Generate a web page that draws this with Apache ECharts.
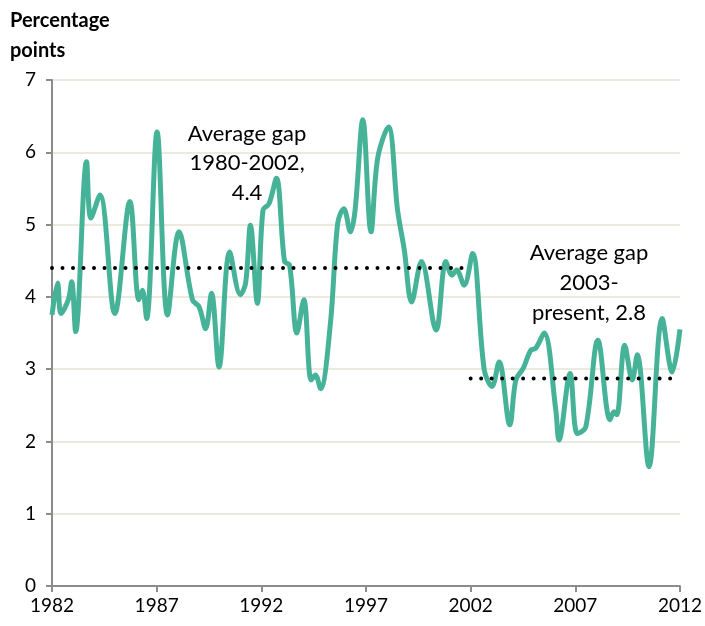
<!DOCTYPE html>
<html lang="en">
<head>
    <meta charset="UTF-8">
    <title>Gap</title>
    <style>
        * { margin: 0; padding: 0; }
        #main { width: 705px; height: 626px; background: #fff; }
    </style>
</head>
<script src="https://cdn.jsdelivr.net/npm/echarts@6/dist/echarts.min.js"></script>
<body>
    <div id="main"></div>
    <script>
        // turning points (year, percentage points)
        var years = [
            1982.0, 1982.27, 1982.43, 1982.78, 1982.94, 1983.13, 1983.65, 1983.86, 1984.29, 1985.0,
            1985.72, 1986.15, 1986.32, 1986.52, 1987.02, 1987.52, 1988.07, 1988.71, 1989.03, 1989.34,
            1989.62, 1989.98, 1990.49, 1991.0, 1991.25, 1991.48, 1991.81, 1992.08, 1992.37, 1992.72,
            1993.11, 1993.35, 1993.7, 1994.03, 1994.38, 1994.58, 1994.83, 1995.3, 1995.65, 1995.94,
            1996.26, 1996.48, 1996.85, 1997.24, 1997.56, 1998.07, 1998.51, 1998.83, 1999.18, 1999.65,
            2000.35, 2000.82, 2001.11, 2001.33, 2001.69, 2002.09, 2002.65, 2003.02, 2003.36, 2003.87,
            2004.16, 2004.51, 2004.87, 2005.11, 2005.51, 2006.07, 2006.22, 2006.75, 2007.1, 2007.5,
            2008.08, 2008.66, 2008.85, 2008.98, 2009.36, 2009.72, 2009.96, 2010.52, 2011.15, 2011.63,
            2012.0
        ];
        var gap = [
            3.75, 4.19, 3.77, 3.96, 4.21, 3.52, 5.87, 5.09, 5.41, 3.77,
            5.32, 3.96, 4.09, 3.70, 6.28, 3.75, 4.90, 3.96, 3.86, 3.56,
            4.05, 3.03, 4.62, 4.03, 4.19, 4.99, 3.91, 5.20, 5.29, 5.64,
            4.49, 4.44, 3.50, 3.96, 2.85, 2.92, 2.73, 3.63, 5.02, 5.22,
            4.90, 5.20, 6.45, 4.90, 5.92, 6.35, 5.20, 4.65, 3.93, 4.49,
            3.54, 4.49, 4.30, 4.37, 4.16, 4.60, 2.99, 2.76, 3.10, 2.23,
            2.85, 3.01, 3.26, 3.29, 3.50, 2.43, 2.02, 2.94, 2.11, 2.20,
            3.40, 2.30, 2.41, 2.37, 3.33, 2.85, 3.20, 1.65, 3.70, 2.96,
            3.55
        ];
        var avg1Span = [1982, 2001.85];
        var avg1Value = 4.4;
        var avg2Span = [2002.0, 2011.6];
        var avg2Value = 2.87;
        var yTicks = [0, 1, 2, 3, 4, 5, 6, 7];

        var lineData = years.map(function (y, i) { return [y, gap[i]]; });
        var avg1Data = avg1Span.map(function (y) { return [y, avg1Value]; });
        var avg2Data = avg2Span.map(function (y) { return [y, avg2Value]; });

        var font = 'Lato, "Open Sans", sans-serif';
        var myChart = echarts.init(document.getElementById('main'));
        var option = {
            backgroundColor: '#ffffff',
            animation: false,
            grid: { left: 52, right: 24, top: 80, bottom: 40 },
            xAxis: {
                type: 'value',
                min: 1982,
                max: 2012,
                interval: 5,
                axisLine: { lineStyle: { color: '#8c8c8c', width: 2 } },
                axisTick: { show: true, length: 6, lineStyle: { color: '#8c8c8c', width: 2 } },
                axisLabel: {
                    color: '#000', fontSize: 19, fontFamily: font, margin: 10,
                    formatter: function (v) { return String(v); }
                },
                splitLine: { show: false }
            },
            yAxis: {
                type: 'value',
                min: yTicks[0],
                max: yTicks[yTicks.length - 1],
                interval: 1,
                axisLine: { show: true, lineStyle: { color: '#8c8c8c', width: 2 } },
                axisTick: { show: true, length: 6, lineStyle: { color: '#8c8c8c', width: 2 } },
                axisLabel: { color: '#000', fontSize: 19, fontFamily: font, margin: 16 },
                splitLine: { lineStyle: { color: '#ece9df', width: 2 } }
            },
            series: [
                {
                    type: 'line',
                    data: lineData,
                    smooth: 0.35,
                    showSymbol: false,
                    lineStyle: { color: '#46b399', width: 5 },
                    z: 3
                },
                {
                    type: 'line',
                    data: avg1Data,
                    showSymbol: false,
                    lineStyle: { color: '#000', width: 4, type: [0, 10.5], cap: 'round' },
                    z: 4
                },
                {
                    type: 'line',
                    data: avg2Data,
                    showSymbol: false,
                    lineStyle: { color: '#000', width: 4, type: [0, 10.5], cap: 'round' },
                    z: 4
                }
            ],
            graphic: [
                {
                    type: 'text', left: 10, top: 6,
                    style: {
                        text: 'Percentage\npoints', fill: '#000', fontWeight: 'bold',
                        fontSize: 20, lineHeight: 30, fontFamily: font
                    }
                },
                {
                    type: 'text', x: 247, y: 119,
                    style: {
                        text: 'Average gap\n1980-2002,\n4.4', fill: '#000', align: 'center',
                        fontSize: 22, lineHeight: 29.5, fontFamily: font
                    }
                },
                {
                    type: 'text', x: 589, y: 238,
                    style: {
                        text: 'Average gap\n2003-\npresent, 2.8', fill: '#000', align: 'center',
                        fontSize: 22, lineHeight: 30, fontFamily: font
                    }
                }
            ]
        };
        myChart.setOption(option);
    </script>
</body>
</html>
